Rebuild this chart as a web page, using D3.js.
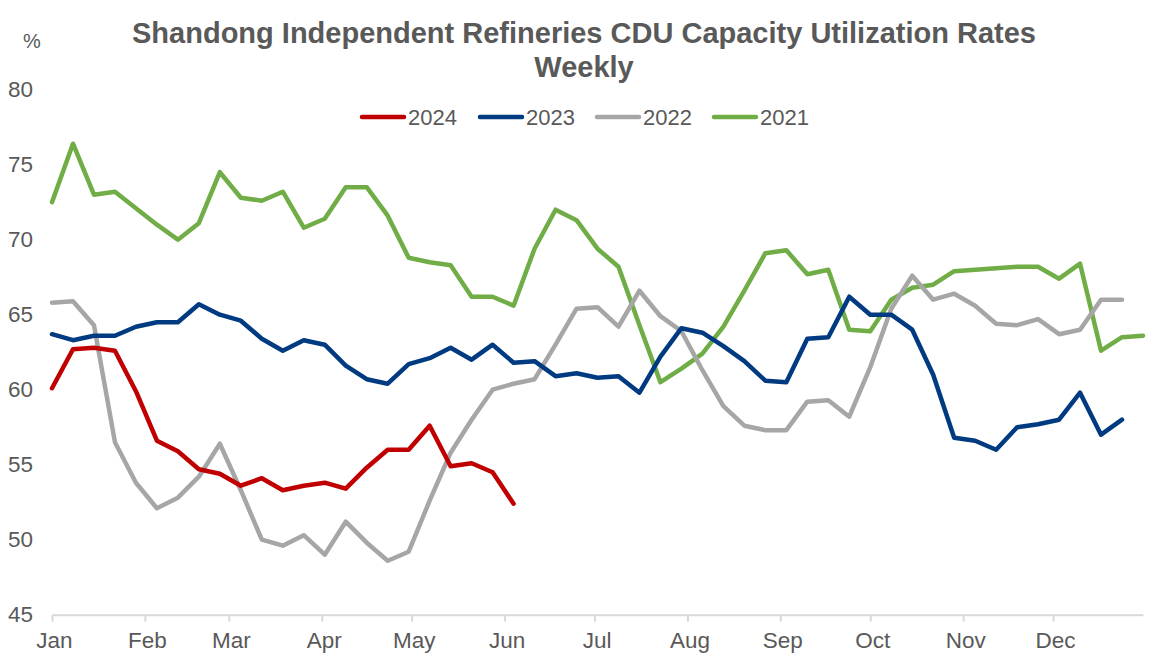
<!DOCTYPE html>
<html>
<head>
<meta charset="utf-8">
<script src="https://cdn.jsdelivr.net/npm/d3@7/dist/d3.min.js"></script>
<style>
  html, body { margin: 0; padding: 0; background: #ffffff; }
  svg { display: block; font-family: "Liberation Sans", Arial, sans-serif; }
</style>
</head>
<body>
<svg id="chart" width="1166" height="666"></svg>
<script>
// ---- Data (weekly readings, week 0 = Jan 1) ----
const titleLines = ["Shandong Independent Refineries CDU Capacity Utilization Rates", "Weekly"];
const unitLabel = "%";
const seriesNames = ["2024", "2023", "2022", "2021"];
const seriesColors = ["#C00000", "#003A80", "#A6A6A6", "#70AD47"];
const yTicks = [45, 50, 55, 60, 65, 70, 75, 80];
const monthLabels = ["Jan","Feb","Mar","Apr","May","Jun","Jul","Aug","Sep","Oct","Nov","Dec"];

const v2024 = [60.1, 62.7, 62.8, 62.6, 59.9, 56.6, 55.9, 54.7, 54.4, 53.6, 54.1, 53.3, 53.6, 53.8, 53.4, 54.8, 56.0, 56.0, 57.6, 54.9, 55.1, 54.5, 52.4];
const v2023 = [63.7, 63.3, 63.6, 63.6, 64.2, 64.5, 64.5, 65.7, 65.0, 64.6, 63.4, 62.6, 63.3, 63.0, 61.6, 60.7, 60.4, 61.7, 62.1, 62.8, 62.0, 63.0, 61.8, 61.9, 60.9, 61.1, 60.8, 60.9, 59.8, 62.2, 64.1, 63.8, 62.9, 61.9, 60.6, 60.5, 63.4, 63.5, 66.2, 65.0, 65.0, 64.0, 61.0, 56.8, 56.6, 56.0, 57.5, 57.7, 58.0, 59.8, 57.0, 58.0];
const v2022 = [65.8, 65.9, 64.3, 56.5, 53.8, 52.1, 52.8, 54.2, 56.4, 53.3, 50.0, 49.6, 50.3, 49.0, 51.2, 49.8, 48.6, 49.2, 52.6, 55.8, 58.0, 60.0, 60.4, 60.7, 63.0, 65.4, 65.5, 64.2, 66.6, 64.9, 63.9, 61.3, 58.9, 57.6, 57.3, 57.3, 59.2, 59.3, 58.2, 61.5, 65.4, 67.6, 66.0, 66.4, 65.6, 64.4, 64.3, 64.7, 63.7, 64.0, 66.0, 66.0];
const v2021 = [72.5, 76.4, 73.0, 73.2, 72.1, 71.0, 70.0, 71.1, 74.5, 72.8, 72.6, 73.2, 70.8, 71.4, 73.5, 73.5, 71.6, 68.8, 68.5, 68.3, 66.2, 66.2, 65.6, 69.4, 72.0, 71.3, 69.4, 68.2, 64.3, 60.5, 61.4, 62.4, 64.2, 66.6, 69.1, 69.3, 67.7, 68.0, 64.0, 63.9, 66.0, 66.8, 67.0, 67.9, 68.0, 68.1, 68.2, 68.2, 67.4, 68.4, 62.6, 63.5, 63.6];
const seriesValues = [v2024, v2023, v2022, v2021];

// ---- Layout ----
const svg = d3.select("#chart");
const W = 1166, H = 666;
const plotLeft = 52, plotRight = 1143, plotTop = 89.7, plotBottom = 614.7;
const textColor = "#595959";

svg.append("rect").attr("width", W).attr("height", H).attr("fill", "#ffffff");

const yearStart = new Date(2023, 0, 1);
const yearEnd = new Date(2023, 11, 31);
const x = d3.scaleTime().domain([yearStart, yearEnd]).range([plotLeft, plotRight]);
const y = d3.scaleLinear().domain([45, 80]).range([plotBottom, plotTop]);
const weekDate = i => d3.timeDay.offset(yearStart, 7 * i);

// Title
const title = svg.append("text")
  .attr("x", 584).attr("text-anchor", "middle")
  .attr("fill", textColor).attr("font-weight", "bold").attr("font-size", 29);
title.append("tspan").attr("x", 584).attr("y", 43).text(titleLines[0]);
title.append("tspan").attr("x", 584).attr("y", 77).text(titleLines[1]);

// Unit label
svg.append("text").attr("x", 32).attr("y", 48).attr("text-anchor", "middle")
  .attr("fill", textColor).attr("font-size", 20).text(unitLabel);

// Y axis (labels only)
const yAxis = d3.axisLeft(y).tickValues(yTicks).tickSize(0).tickPadding(0);
const gy = svg.append("g").attr("transform", `translate(33,0)`).call(yAxis);
gy.select(".domain").remove();
gy.selectAll("text").attr("fill", textColor).attr("font-size", 22.5)
  .attr("font-family", '"Liberation Sans", Arial, sans-serif');

// X axis
const months = d3.timeMonth.range(yearStart, d3.timeDay.offset(yearEnd, 1));
const xAxis = d3.axisBottom(x).tickValues(months)
  .tickFormat((d, i) => monthLabels[i]).tickSize(7).tickSizeOuter(0).tickPadding(10);
const gx = svg.append("g").attr("transform", `translate(0,${plotBottom})`).call(xAxis);
gx.select(".domain").attr("stroke", "#D9D9D9").attr("stroke-width", 2);
gx.selectAll(".tick line").attr("stroke", "#D9D9D9").attr("stroke-width", 2);
gx.selectAll("text").attr("fill", textColor).attr("font-size", 22.5)
  .attr("font-family", '"Liberation Sans", Arial, sans-serif').attr("dx", 2);

// Lines (draw oldest first so 2024 ends on top)
const line = d3.line().x((d, i) => x(weekDate(i))).y(d => y(d));
const order = [3, 2, 1, 0];
order.forEach(k => {
  svg.append("path").datum(seriesValues[k])
    .attr("fill", "none").attr("stroke", seriesColors[k])
    .attr("stroke-width", 4.5).attr("stroke-linejoin", "round").attr("stroke-linecap", "round")
    .attr("d", line);
});

// Legend
const legendX = [362, 480, 597, 714];
seriesNames.forEach((name, k) => {
  const g = svg.append("g").attr("transform", `translate(${legendX[k]},117)`);
  g.append("line").attr("x1", 0).attr("x2", 42).attr("y1", 0).attr("y2", 0)
    .attr("stroke", seriesColors[k]).attr("stroke-width", 4.5).attr("stroke-linecap", "round");
  g.append("text").attr("x", 46).attr("y", 8).attr("fill", textColor)
    .attr("font-size", 22).text(name);
});
</script>
</body>
</html>
